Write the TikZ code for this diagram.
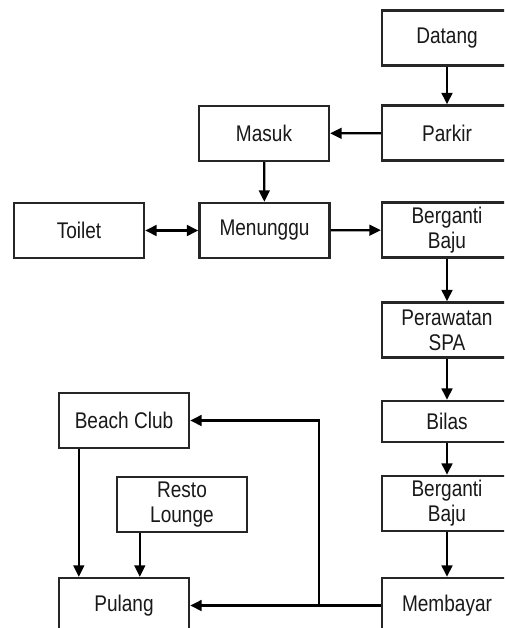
\documentclass[tikz,border=0pt]{standalone}
\usepackage{fontspec}
\setmainfont[FakeStretch=0.84]{Liberation Sans}
\usetikzlibrary{arrows.meta}
\begin{document}
\begin{tikzpicture}[x=0.75pt,y=-0.75pt,
  box/.style={draw=black!85, line width=1.8pt, fill=white,
    minimum width=97.5pt, minimum height=41.25pt, inner sep=0pt,
    align=center, font=\fontsize{17}{18.75}\selectfont, text=black!90},
  tip/.style={Triangle[length=8.5pt,width=8pt]},
  flow/.style={line width=1.7pt, draw=black, -{Triangle[length=8.5pt,width=8pt]}},
  both/.style={line width=1.7pt, draw=black,
    {Triangle[length=8.5pt,width=8pt]}-{Triangle[length=8.5pt,width=8pt]}}
]
\useasboundingbox (0,0) rectangle (504,628);
\clip (0,0) rectangle (504,628);
\fill[white] (0,0) rectangle (504,628);

% right column
\node[box] (datang) at (447,38) {Datang};
\node[box] (parkir) at (447,133) {Parkir};
\node[box] (ganti1) at (447,230) {Berganti\\Baju};
\node[box] (spa) at (447,330) {Perawatan\\SPA};
\node[box, minimum height=30.75pt] (bilas) at (447,421.5) {Bilas};
\node[box] (ganti2) at (447,503.5) {Berganti\\Baju};
\node[box] (bayar) at (447,605.5) {Membayar};

% middle and left
\node[box] (masuk) at (264,133.5) {Masuk};
\node[box] (tunggu) at (264.5,230.5) {Menunggu};
\node[box] (toilet) at (79,230.5) {Toilet};
\node[box] (beach) at (124,420.5) {Beach Club};
\node[box] (resto) at (182,504.5) {Resto\\Lounge};
\node[box] (pulang) at (124,605.5) {Pulang};

% connectors
\draw[flow] (datang) -- (parkir);
\draw[flow] (parkir) -- (masuk);
\draw[flow] (masuk) -- (tunggu);
\draw[both] (toilet) -- (tunggu);
\draw[flow] (tunggu) -- (ganti1);
\draw[flow] (ganti1) -- (spa);
\draw[flow] (spa) -- (bilas);
\draw[flow] (bilas) -- (ganti2);
\draw[flow] (ganti2) -- (bayar);
\draw[flow] (bayar) -- (pulang);
\coordinate (split) at (319,605.5);
\draw[flow] (split) |- (beach);
\draw[flow] ([xshift=15.75pt]beach.south west) -- ([xshift=15.75pt]pulang.north west);
\draw[flow] ([xshift=18pt]resto.south west) -- ([xshift=18pt]resto.south west |- pulang.north);
\end{tikzpicture}
\end{document}
